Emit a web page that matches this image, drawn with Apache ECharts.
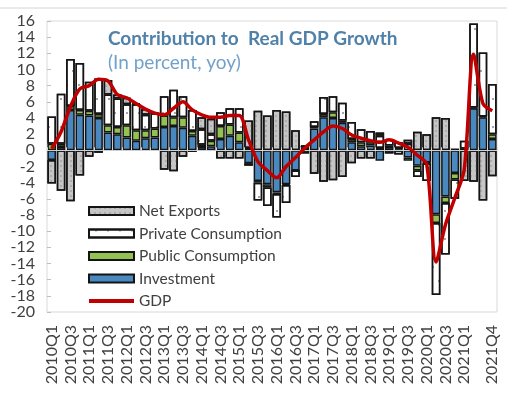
<!DOCTYPE html>
<html>
<head>
<meta charset="utf-8">
<script src="https://cdn.jsdelivr.net/npm/echarts@6/dist/echarts.min.js"></script>
<style>
html, body { margin: 0; padding: 0; background: #fff; }
#chart { width: 507px; height: 396px; }
</style>
</head>
<body>
<div id="chart"></div>
<script>
var quarters = [
    '2010Q1', '2010Q2', '2010Q3', '2010Q4', '2011Q1', '2011Q2', '2011Q3', '2011Q4',
    '2012Q1', '2012Q2', '2012Q3', '2012Q4', '2013Q1', '2013Q2', '2013Q3', '2013Q4',
    '2014Q1', '2014Q2', '2014Q3', '2014Q4', '2015Q1', '2015Q2', '2015Q3', '2015Q4',
    '2016Q1', '2016Q2', '2016Q3', '2016Q4', '2017Q1', '2017Q2', '2017Q3', '2017Q4',
    '2018Q1', '2018Q2', '2018Q3', '2018Q4', '2019Q1', '2019Q2', '2019Q3', '2019Q4',
    '2020Q1', '2020Q2', '2020Q3', '2020Q4', '2021Q1', '2021Q2', '2021Q3', '2021Q4'
];
var investment = [
    -1.2, 0.4, 5.0, 4.4, 4.3, 4.0, 2.2, 2.0, 1.6, 1.2, 1.5, 1.6,
    2.9, 3.0, 2.8, 1.8, 0.4, 0.5, 1.4, 1.8, 1.0, -1.6, -3.8, -4.2,
    -5.2, -4.2, -2.5, 0.3, 2.7, 4.1, 4.0, 3.4, 1.0, 0.5, 0.6, -1.3,
    0.4, 0.1, -0.9, -1.9, -1.5, -7.9, -5.7, -2.8, 0.0, 5.2, 4.1, 1.4
];
var publicCons = [
    0.8, 0.4, 0.5, 0.6, 0.6, 0.5, 0.9, 0.9, 1.5, 1.3, 1.0, 1.1,
    1.4, 1.1, 1.3, 0.6, 0.3, 0.7, 1.6, 1.4, 1.2, 0.3, -0.2, -0.4,
    -0.2, -0.1, 0.0, 0.2, 0.2, 0.4, 0.7, 0.3, 0.4, 0.5, 0.4, 0.3,
    0.2, 0.2, -0.4, -0.6, -0.1, -1.1, -0.8, -0.8, 0.2, 0.1, 0.1, 0.6
];
var privateCons = [
    3.4, 6.2, 5.8, 5.8, 3.6, 4.4, 3.8, 3.5, 2.6, 3.2, 1.9, 1.9,
    2.4, 3.4, 2.6, 2.6, 1.9, 0.8, 1.7, 2.0, 3.0, -0.3, -2.2, -2.3,
    -2.9, -2.2, -0.8, 0.1, 0.7, 2.1, 2.0, 2.2, 2.1, 1.6, 1.4, 1.5,
    0.8, 0.7, 0.8, -0.8, -2.2, -8.9, -6.4, -2.4, 1.0, 10.4, 7.9, 6.2
];
var netExports = [
    -2.9, -5.0, -6.3, -3.1, -0.8, -0.3, 1.8, 0.5, 0.8, 0.1, 0.7, 0.0,
    -2.4, -2.6, -0.8, -0.2, 1.5, 1.9, -1.0, -1.0, -1.0, 3.4, 4.9, 4.3,
    5.0, 4.8, 2.5, -0.4, -2.9, -3.9, -3.7, -3.3, -1.6, -1.0, -1.0, 0.4,
    -0.4, -0.5, 0.5, 2.3, 2.0, 4.1, 4.0, 0.2, -3.8, -3.9, -6.2, -3.2
];
var gdp = [
    0.2, 2.3, 5.4, 7.6, 8.0, 8.8, 8.6, 6.9, 6.5, 5.8, 5.1, 4.6,
    4.4, 5.2, 6.0, 5.0, 4.4, 4.1, 4.1, 4.3, 4.3, 1.3, -1.4, -2.5,
    -3.4, -2.0, -0.9, 0.3, 1.3, 2.3, 3.0, 2.7, 1.9, 1.5, 1.2, 1.0,
    1.3, 0.9, 0.4, -0.6, -1.7, -13.8, -9.2, -5.9, -2.4, 11.9, 5.8, 4.9
];
var yMin = -20, yMax = 16, yStep = 2;

var font = 'Lato';
var chart = echarts.init(document.getElementById('chart'));

function barSeries(name, data, style) {
    return {
        name: name,
        type: 'bar',
        stack: 'total',
        data: data,
        barCategoryGap: '8%',
        itemStyle: style
    };
}

var option = {
    animation: false,
    textStyle: { fontFamily: font },
    title: {
        text: 'Contribution to  Real GDP Growth',
        subtext: '(In percent, yoy)',
        left: 103,
        top: 24,
        itemGap: 5,
        textStyle: { fontFamily: font, fontSize: 19, fontWeight: 'bold', color: '#4f81a9' },
        subtextStyle: { fontFamily: font, fontSize: 19, color: '#72a2c9' }
    },
    graphic: [{
        type: 'line',
        shape: { x1: 0, y1: 8, x2: 507, y2: 8 },
        style: { stroke: '#d4d4d4', lineWidth: 1 }
    }],
    legend: {
        orient: 'vertical',
        left: 83,
        top: 198,
        itemWidth: 45,
        itemHeight: 8,
        itemGap: 6.5,
        textStyle: { fontFamily: font, fontSize: 15.5, lineHeight: 16, color: '#404040' },
        data: [
            { name: 'Net Exports', icon: 'rect' },
            { name: 'Private Consumption', icon: 'rect' },
            { name: 'Public Consumption', icon: 'rect' },
            { name: 'Investment', icon: 'rect' },
            { name: 'GDP', icon: 'path://M0,0 L45,0 L45,4 L0,4 Z' }
        ]
    },
    grid: {
        left: 47,
        right: 10,
        top: 21,
        bottom: 84,
        show: true,
        borderColor: '#d9d9d9',
        borderWidth: 1,
        outerBoundsMode: 'none'
    },
    xAxis: [{
        type: 'category',
        data: quarters,
        position: 'bottom',
        axisLine: { show: false, onZero: false },
        axisTick: { show: false },
        axisLabel: {
            rotate: 90,
            margin: 13,
            fontSize: 16,
            fontFamily: font,
            color: '#404040',
            interval: function (i) { return (i % 2 === 0 && i <= 44) || i === 47; }
        }
    }, {
        type: 'category',
        data: quarters,
        position: 'top',
        z: 4,
        axisLine: { show: true, onZero: true, lineStyle: { color: '#d0d0d0', width: 1 } },
        axisTick: { show: true, interval: 0, length: 3, lineStyle: { color: '#d8d8d8' } },
        axisLabel: { show: false }
    }],
    yAxis: {
        type: 'value',
        min: yMin,
        max: yMax,
        interval: yStep,
        axisLine: { show: false },
        axisTick: { show: true, inside: true, length: 4, lineStyle: { color: '#bfbfbf' } },
        splitLine: { show: false },
        axisLabel: { fontSize: 16, fontFamily: font, color: '#404040', margin: 12 }
    },
    series: [
        barSeries('Investment', investment, {
            color: '#4a89bf', borderColor: '#141414', borderWidth: 1.5
        }),
        barSeries('Public Consumption', publicCons, {
            color: '#93c152', borderColor: '#141414', borderWidth: 1.5
        }),
        barSeries('Private Consumption', privateCons, {
            color: '#ffffff', borderColor: '#141414', borderWidth: 1.5,
            decal: {
                symbol: 'circle', symbolSize: 0.8, color: '#333',
                dashArrayX: [[2, 10], [0, 6, 2, 4]], dashArrayY: [2, 12]
            }
        }),
        barSeries('Net Exports', netExports, {
            color: '#c6c6c6', borderColor: '#141414', borderWidth: 1.5,
            decal: {
                symbol: 'circle', symbolSize: 0.8, color: '#8c8c8c',
                dashArrayX: [2, 3], dashArrayY: [2, 3]
            }
        }),
        {
            name: 'GDP',
            type: 'line',
            data: gdp,
            smooth: 0.3,
            symbol: 'none',
            z: 5,
            lineStyle: { color: '#c00000', width: 3.5 },
            itemStyle: { color: '#c00000' }
        }
    ]
};

chart.setOption(option);
</script>
</body>
</html>
